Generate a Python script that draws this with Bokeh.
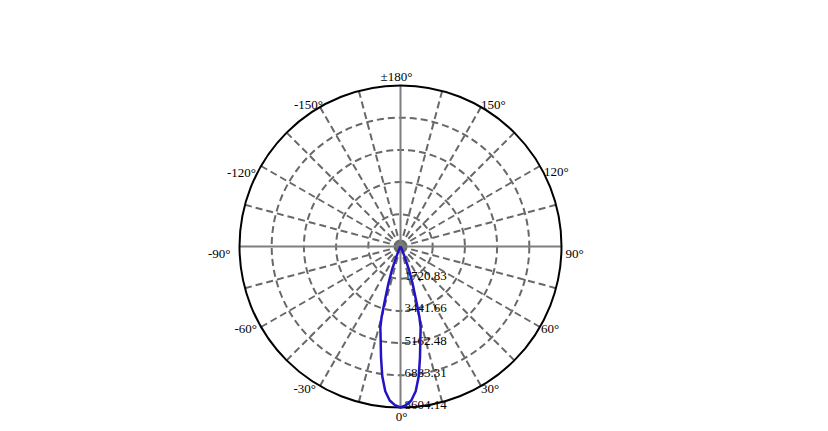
import numpy as np
from bokeh.plotting import figure
from bokeh.models import ColumnDataSource, Range1d
from bokeh.core.properties import value
from bokeh.embed import file_html
from bokeh.resources import INLINE

# ---- data ----
gamma_deg = [0, 2, 4, 6, 8, 10, 12, 14, 15, 16, 18, 20, 22, 25, 30, 35, 40, 60, 90, 120, 150, 180]
intensity = [8604.14, 8480, 8250, 7780, 7000, 6000, 5100, 4450, 3900, 3100, 2100, 1350, 650, 200, 50, 10, 0, 0, 0, 0, 0, 0]
ring_values = [1720.83, 3441.66, 5162.48, 6883.31, 8604.14]
ring_labels = ["1720.83", "3441.66", "5162.48", "6883.31", "8604.14"]
angle_ticks = [180, -150, -120, -90, -60, -30, 0, 30, 60, 90, 120, 150]
angle_labels = ["±180°", "-150°", "-120°", "-90°", "-60°", "-30°", "0°", "30°", "60°", "90°", "120°", "150°"]

R = ring_values[-1]
W, H = 812, 430
cx_px, cy_px = 400, 246
k = R / 161.0

p = figure(width=W, height=H, output_backend="svg", toolbar_location=None,
           x_range=Range1d(-cx_px * k, (W - cx_px) * k),
           y_range=Range1d(-(H - cy_px) * k, cy_px * k),
           min_border=0, x_axis_location=None, y_axis_location=None)
p.outline_line_color = None
p.xgrid.visible = False
p.ygrid.visible = False
p.background_fill_color = "white"

def pol(r, deg):
    t = np.radians(deg)
    return r * np.sin(t), -r * np.cos(t)

grid_col = "#686868"
# dashed rings
for rv in ring_values[:-1]:
    p.circle(x=0, y=0, radius=rv, fill_color=None, line_color=grid_col,
             line_width=2, line_dash="7 4")

# radial lines
dash_angles = [a for a in range(0, 360, 15) if a % 90 != 0]
x1, y1 = pol(R, np.array(dash_angles, dtype=float))
p.segment(x0=0, y0=0, x1=x1, y1=y1, line_color=grid_col, line_width=2, line_dash="7 4")
solid_angles = [0, 90, 180, 270]
sx, sy = pol(R, np.array(solid_angles, dtype=float))
p.segment(x0=0, y0=0, x1=sx, y1=sy, line_color="#7f7f7f", line_width=2)
p.circle(x=0, y=0, radius=4.5 * k, fill_color="#7a7a7a", line_color=None)

# outer circle
p.circle(x=0, y=0, radius=R, fill_color=None, line_color="black", line_width=2)

font = value("Liberation Serif")
# ring labels
p.text(x=[0] * len(ring_values), y=[-v for v in ring_values], text=ring_labels,
       x_offset=4, y_offset=-2.5, text_font=font, text_font_size="13px",
       text_align="left", text_baseline="middle", text_color="black")

# angle labels
offsets = {180: (-4, -9), -150: (3, -3), -120: (-5, 6), -90: (-9, 7), -60: (-4, 1),
           -30: (-4, 3), 0: (1, 9), 30: (0, 3), 60: (1, 1.5), 90: (4, 7),
           120: (4, 5.5), 150: (0, -3)}
groups = {"left": [], "right": [], "center": []}
for a, lab in zip(angle_ticks, angle_labels):
    al = "center" if a in (0, 180) else ("left" if a > 0 else "right")
    groups[al].append((a, lab))
for al, items in groups.items():
    xs, ys, ts, xo, yo = [], [], [], [], []
    for a, lab in items:
        x, y = pol(R, a)
        xs.append(x); ys.append(y); ts.append(lab)
        xo.append(offsets[a][0]); yo.append(offsets[a][1])
    src = ColumnDataSource(dict(x=xs, y=ys, t=ts, xo=xo, yo=yo))
    p.text(x="x", y="y", text="t", x_offset="xo", y_offset="yo", source=src,
           text_font=font, text_font_size="13px", text_align=al,
           text_baseline="middle", text_color="black")

# intensity curve (symmetric)
g = np.array(gamma_deg, dtype=float)
I = np.array(intensity, dtype=float)
full_g = np.concatenate([-g[::-1], g[1:]])
full_I = np.concatenate([I[::-1], I[1:]])
cxs, cys = pol(full_I, full_g)
p.line(x=cxs, y=cys, line_color="#2313c2", line_width=2.5)

open("out.html", "w").write(file_html(p, INLINE))
